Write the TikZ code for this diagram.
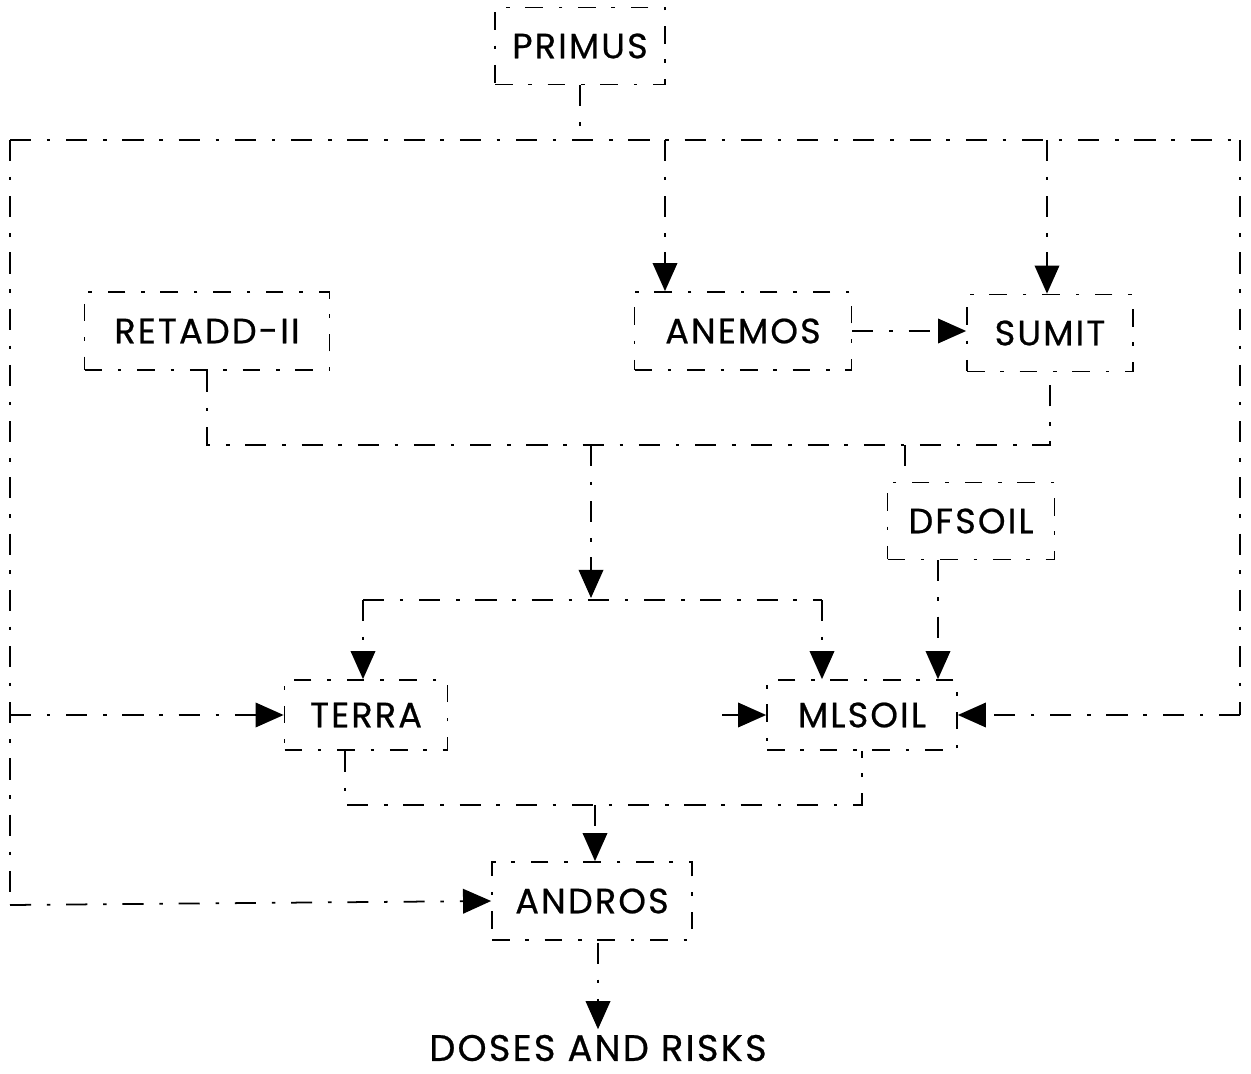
\documentclass[tikz,border=0pt]{standalone}
\usepackage{fontspec}
\setmainfont[LetterSpace=6,FakeBold=0.6]{Poppins}
\usetikzlibrary{arrows.meta}

\begin{document}
\begin{tikzpicture}[x=0.02cm,y=-0.02cm,
  wire/.style={line width=1pt, dash pattern=on 12pt off 9pt on 2pt off 9pt},
  flow/.style={wire,-{Triangle[width=14pt,length=16pt]}},
  box/.style 2 args={draw, line width=1pt, dash pattern=on 10pt off 9pt on 2pt off 9pt,
    minimum width=#1*0.2mm, minimum height=#2*0.2mm, inner sep=0pt},
  lbl/.style={font=\fontsize{20}{24}\selectfont}]
\useasboundingbox (0,0) rectangle (1251,1074);

% program modules
\node[box={170}{77},lbl]  (primus) at (580,46)  {PRIMUS};
\node[box={245}{78},lbl]  (retadd) at (207,331) {RETADD-II};
\node[box={217}{78},lbl]  (anemos) at (743,331) {ANEMOS};
\node[box={166}{77},lbl]  (sumit)  at (1050,333) {SUMIT};
\node[box={167}{77},lbl]  (dfsoil) at (971,521) {DFSOIL};
\node[box={163}{70},lbl]  (terra)  at (366,715) {TERRA};
\node[box={190}{70},lbl]  (mlsoil) at (862,715) {MLSOIL};
\node[box={200}{78},lbl]  (andros) at (592,901) {ANDROS};
\node[font=\fontsize{21}{24}\selectfont, inner sep=0pt] (doses) at (598,1048) {DOSES AND RISKS};

% junction points
\coordinate (busL) at (10,140);
\coordinate (busR) at (1240,140);
\coordinate (busA) at (665,140);
\coordinate (busS) at (1047,140);
\coordinate (midL) at (10,715);
\coordinate (lowL) at (10,905);
\coordinate (midR) at (1240,715);
\coordinate (colL) at (207,445);
\coordinate (colR) at (1050,445);
\coordinate (colD) at (905,445);
\coordinate (colM) at (591,445);
\coordinate (disM) at (591,598);
\coordinate (disT) at (363,600);
\coordinate (disS) at (822,600);
\coordinate (dfx)  at (938,0);
\coordinate (mlw)  at (722,715);
\coordinate (outT) at (345,805);
\coordinate (outM) at (862,805);
\coordinate (outA) at (595,805);

% PRIMUS distribution bus
\draw[wire] (primus.south) -- (primus.south |- busL);
\draw[wire] (busL) -- (busR);
\draw[flow] (busA) -- (busA |- anemos.north);
\draw[flow] (busS) -- (busS |- sumit.north);
\draw[wire] (busL) -- (lowL);
\draw[flow] (midL) -- (terra.west);
\draw[flow] (lowL) -- (andros.west);
\draw[wire] (busR) -- (midR);
\draw[flow] (midR) -- (mlsoil.east);

% air transport
\draw[flow] (anemos.east) -- (anemos.east -| sumit.west);
\draw[wire] (retadd.south) -- (colL) -- (colR) -- (sumit.south);
\draw[wire] (colD) -- (colD |- dfsoil.north);
\draw[flow] (colM) -- (disM);
\draw[wire] (disT) -- (disS);
\draw[flow] (disT) -- (disT |- terra.north);
\draw[flow] (disS) -- (disS |- mlsoil.north);
\draw[flow] (dfsoil.south -| dfx) -- (dfx |- mlsoil.north);
\draw[flow] (mlw) -- (mlsoil.west);

% doses
\draw[wire] (terra.south -| outT) -- (outT) -- (outM) -- (mlsoil.south);
\draw[flow] (outA) -- (outA |- andros.north);
\draw[flow] ([yshift=-1pt]andros.south -| doses) -- ([yshift=3pt]doses.north);
\end{tikzpicture}
\end{document}
